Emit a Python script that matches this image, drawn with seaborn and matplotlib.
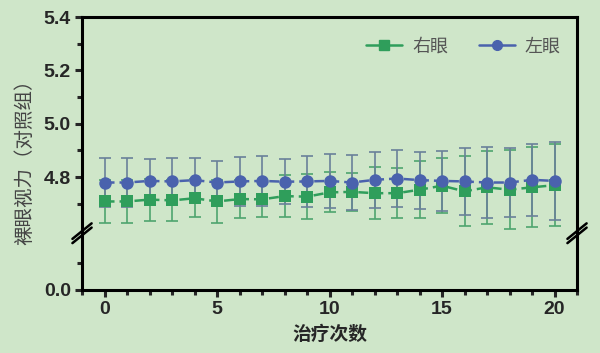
import numpy as np
import pandas as pd
import seaborn as sns
import matplotlib.pyplot as plt
from matplotlib.ticker import MultipleLocator, FixedLocator

# treatment sessions and naked-eye visual acuity (control group)
sessions = list(range(21))
right_mean = [4.709, 4.709, 4.716, 4.713, 4.721, 4.709, 4.718, 4.717, 4.729, 4.727, 4.743,
              4.745, 4.740, 4.740, 4.753, 4.768, 4.747, 4.762, 4.753, 4.762, 4.770]
right_sd = [0.080, 0.080, 0.079, 0.076, 0.071, 0.080, 0.071, 0.067, 0.079, 0.084, 0.075,
            0.072, 0.097, 0.093, 0.106, 0.103, 0.131, 0.136, 0.147, 0.150, 0.154]
left_mean = [4.780, 4.780, 4.786, 4.784, 4.789, 4.780, 4.784, 4.786, 4.783, 4.784, 4.786,
             4.780, 4.790, 4.795, 4.789, 4.786, 4.784, 4.780, 4.780, 4.790, 4.786]
left_sd = [0.091, 0.091, 0.081, 0.087, 0.082, 0.081, 0.092, 0.093, 0.084, 0.095, 0.102,
           0.102, 0.104, 0.107, 0.107, 0.112, 0.127, 0.134, 0.128, 0.134, 0.146]
series_names = ["右眼", "左眼"]

bg = "#cfe6c9"
green = "#2f9e5b"
blue = "#4a62ad"
green_err = "#4ea56e"
blue_err = "#6a8199"
cjk = ['Noto Sans CJK SC', 'DejaVu Sans']

sns.set_theme(style="ticks")
plt.rcParams['font.family'] = ['Liberation Sans', 'Noto Sans CJK SC', 'DejaVu Sans']
plt.rcParams['axes.linewidth'] = 2.2

df = pd.concat([
    pd.DataFrame({"session": sessions, "acuity": right_mean, "eye": series_names[0]}),
    pd.DataFrame({"session": sessions, "acuity": left_mean, "eye": series_names[1]}),
])

fig = plt.figure(figsize=(6, 3.53), dpi=100, facecolor=bg)
left, right, top, bottom = 0.1367, 0.9617, 0.9518, 0.1785
h = top - bottom
up_frac = 0.8 / 1.01
ax_top = fig.add_axes([left, bottom + h * (1 - up_frac), right - left, h * up_frac])
ax_bot = fig.add_axes([left, bottom, right - left, h * (1 - up_frac)], sharex=ax_top)

for ax in (ax_top, ax_bot):
    ax.set_facecolor(bg)
    ax.errorbar(sessions, right_mean, yerr=right_sd, fmt="none", ecolor=green_err,
                elinewidth=1.2, capsize=4, capthick=1.2, zorder=2)
    ax.errorbar(sessions, left_mean, yerr=left_sd, fmt="none", ecolor=blue_err,
                elinewidth=1.2, capsize=4, capthick=1.2, zorder=2)
    sns.lineplot(data=df, x="session", y="acuity", hue="eye", style="eye",
                 palette=[green, blue], markers=["s", "o"], dashes=[(4, 2), (4, 2)],
                 markersize=9, markeredgewidth=0, linewidth=1.8, ax=ax, legend=False,
                 zorder=3)
    ax.set_xlabel("")
    ax.set_ylabel("")
    for s in ax.spines.values():
        s.set_color("black")
        s.set_linewidth(2.2)

ax_top.set_ylim(4.59, 5.4)
ax_top.yaxis.set_major_locator(FixedLocator([4.8, 5.0, 5.2, 5.4]))
ax_top.yaxis.set_minor_locator(FixedLocator([4.7, 4.9, 5.1, 5.3]))
ax_top.spines["bottom"].set_visible(False)
ax_top.tick_params(axis="x", which="both", bottom=False, labelbottom=False)

ax_bot.set_ylim(0, 0.21)
ax_bot.yaxis.set_major_locator(FixedLocator([0.0]))
ax_bot.yaxis.set_minor_locator(FixedLocator([0.1]))
ax_bot.spines["top"].set_visible(False)
ax_bot.set_xlim(-1, 21)
ax_bot.xaxis.set_major_locator(MultipleLocator(5))
ax_bot.xaxis.set_minor_locator(MultipleLocator(1))

for ax in (ax_top, ax_bot):
    ax.tick_params(which="major", direction="out", length=5, width=2.2, labelsize=14, pad=3)
    ax.tick_params(which="minor", direction="out", length=3.5, width=2.2)
    for lab in ax.get_xticklabels() + ax.get_yticklabels():
        lab.set_fontweight("bold")

ax_top.yaxis.set_major_formatter(plt.FormatStrFormatter("%.1f"))
ax_bot.yaxis.set_major_formatter(plt.FormatStrFormatter("%.1f"))

# break marks on both vertical spines
ybreak = bottom + h * (1 - up_frac)
for xb in (left, right):
    for dy in (-0.006, 0.006):
        fig.add_artist(plt.Line2D([xb - 0.016, xb + 0.016], [ybreak + dy - 0.022, ybreak + dy + 0.022],
                                  color="black", lw=1.8, transform=fig.transFigure))
    fig.add_artist(plt.Line2D([xb, xb], [ybreak - 0.012, ybreak + 0.012], color=bg, lw=3.5,
                              transform=fig.transFigure, zorder=0))

ax_bot.set_xlabel("治疗次数", fontsize=13.5, fontweight="bold", labelpad=5, family=cjk)
fig.text(0.042, 0.555, "裸眼视力（对照组）", rotation=90, ha="center", va="center",
         fontsize=14, color="#444444", family=cjk)

handles = [
    plt.Line2D([], [], color=green, marker="s", markersize=7, lw=1.8),
    plt.Line2D([], [], color=blue, marker="o", markersize=7, lw=1.8),
]
leg = ax_top.legend(handles, series_names, loc="upper right", ncol=2, frameon=False,
                    handlelength=2.0, columnspacing=1.7, handletextpad=0.55,
                    bbox_to_anchor=(1.0, 0.98), prop={"family": cjk, "size": 13})
for t in leg.get_texts():
    t.set_color("#555555")

fig.savefig("out.png", dpi=100, facecolor=bg)
